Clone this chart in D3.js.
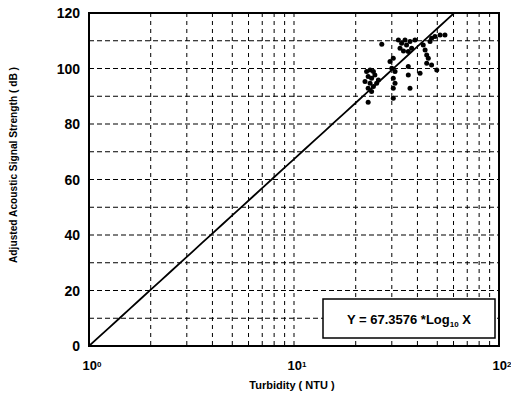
<!DOCTYPE html>
<meta charset="utf-8">
<script src="https://d3js.org/d3.v7.min.js"></script>
<style>
  body { margin: 0; background: #fff; }
  text { font-family: "Liberation Sans", Arial, sans-serif; font-weight: bold; fill: #000; }
</style>
<svg id="chart"></svg>
<script>
var width = 511, height = 396;
var svg = d3.select("#chart").attr("width", width).attr("height", height);

// plot box
var plotL = 89, plotR = 499, plotT = 13, plotB = 346;

// data
var turbidity = [26.8, 32.3, 33.5, 34.8, 35.4, 36.8, 37.5, 32.9, 34.2, 38.9, 36.1,
  42.7, 43.6, 44.4, 45.2, 46.1, 46.9, 48.7, 51.6, 54.5, 44.4, 46.9, 49.7, 41.2,
  22.6, 23.5, 24.4, 23.0, 23.9, 24.8, 22.2, 23.5, 24.4, 25.3, 23.0, 23.9, 25.8, 23.0,
  29.4, 30.5, 30.0, 31.1, 30.5, 31.1, 30.5, 30.5, 36.1, 36.1, 36.8];
var signal = [108.7, 110.3, 109.1, 110.3, 108.5, 109.7, 107.3, 107.3, 106.3, 110.3, 106.1,
  108.5, 106.7, 104.9, 103.7, 109.7, 110.9, 111.5, 112.1, 112.1, 101.9, 101.3, 99.5, 98.3,
  98.9, 99.5, 98.9, 97.1, 96.5, 97.7, 95.3, 94.7, 93.5, 94.7, 92.9, 91.7, 95.9, 87.8,
  102.5, 103.7, 100.1, 98.9, 96.5, 94.7, 92.9, 89.3, 100.7, 97.7, 92.9];
var yTicks = [0, 20, 40, 60, 80, 100, 120];
var yGrid = [10, 20, 30, 40, 50, 60, 70, 80, 90, 100, 110];
var xTicks = [1, 10, 100];
var xTickExp = ["0", "1", "2"];
var xGrid = [2, 3, 4, 5, 6, 7, 8, 9, 10, 20, 30, 40, 50, 60, 70, 80, 90];
var slope = 67.3576;

var x = d3.scaleLog().domain([1, 100]).range([plotL, plotR]);
var y = d3.scaleLinear().domain([0, 120]).range([plotB, plotT]);

svg.append("defs").append("clipPath").attr("id", "plotclip")
  .append("rect").attr("x", plotL).attr("y", plotT)
  .attr("width", plotR - plotL).attr("height", plotB - plotT);

// grid
svg.append("g").selectAll("line").data(yGrid).enter().append("line")
  .attr("x1", plotL).attr("x2", plotR)
  .attr("y1", d => y(d)).attr("y2", d => y(d))
  .attr("stroke", "#000").attr("stroke-width", 1.2)
  .attr("stroke-dasharray", "5,3");

svg.append("g").selectAll("line").data(xGrid).enter().append("line")
  .attr("x1", d => x(d)).attr("x2", d => x(d))
  .attr("y1", plotT).attr("y2", plotB)
  .attr("stroke", "#000").attr("stroke-width", 1)
  .attr("stroke-dasharray", "4,4");

// fit line
var fitX = d3.range(0, 2.01, 0.05).map(e => Math.pow(10, e));
svg.append("path")
  .datum(fitX)
  .attr("clip-path", "url(#plotclip)")
  .attr("fill", "none").attr("stroke", "#000").attr("stroke-width", 1.8)
  .attr("d", d3.line().x(d => x(d)).y(d => y(slope * Math.log10(d))));

// points
svg.append("g").selectAll("circle").data(turbidity).enter().append("circle")
  .attr("cx", d => x(d))
  .attr("cy", (d, i) => y(signal[i]))
  .attr("r", 2.5)
  .attr("fill", "#000");

// legend box
svg.append("rect")
  .attr("x", 323).attr("y", 299).attr("width", 172).attr("height", 39)
  .attr("fill", "#fff").attr("stroke", "#000").attr("stroke-width", 1.5);
var eq = svg.append("text").attr("x", 409).attr("y", 324)
  .attr("text-anchor", "middle").style("font-size", "13px");
eq.append("tspan").text("Y  = " + slope + " *Log");
eq.append("tspan").attr("baseline-shift", "-35%").style("font-size", "8px").text("10");
eq.append("tspan").text(" X");

// frame
svg.append("rect")
  .attr("x", plotL).attr("y", plotT).attr("width", plotR - plotL).attr("height", plotB - plotT)
  .attr("fill", "none").attr("stroke", "#000").attr("stroke-width", 2);

// y tick labels
svg.append("g").selectAll("text").data(yTicks).enter().append("text")
  .attr("x", 80).attr("y", d => y(d) + 5)
  .attr("text-anchor", "end").style("font-size", "14px")
  .text(d => d);

// x tick labels
var xl = svg.append("g").selectAll("text").data(xTicks).enter().append("text")
  .attr("x", d => x(d) + 3).attr("y", 370)
  .attr("text-anchor", "middle").style("font-size", "13px");
xl.append("tspan").text("10");
xl.append("tspan").attr("baseline-shift", "40%").style("font-size", "8px")
  .text((d, i) => xTickExp[i]);

// axis titles
svg.append("text").attr("x", 292).attr("y", 389)
  .attr("text-anchor", "middle").style("font-size", "11px")
  .text("Turbidity ( NTU )");

svg.append("text")
  .attr("transform", "translate(17,165) rotate(-90)")
  .attr("text-anchor", "middle").style("font-size", "10px")
  .attr("textLength", 196).attr("lengthAdjust", "spacingAndGlyphs")
  .text("Adjusted Acoustic Signal Strength ( dB )");
</script>
